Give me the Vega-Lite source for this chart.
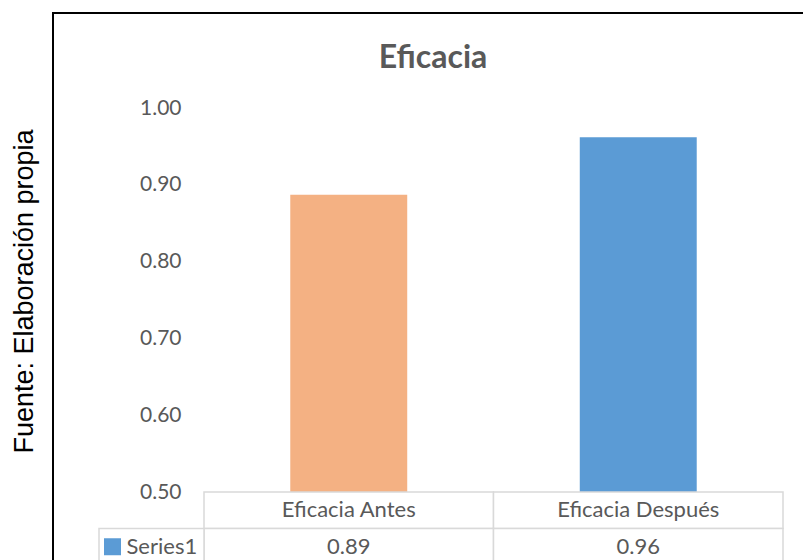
{
  "$schema": "https://vega.github.io/schema/vega-lite/v6.json",
  "width": 760,
  "height": 580,
  "autosize": {"type": "none"},
  "padding": {"left": 53, "top": 13, "right": -10, "bottom": -33},
  "background": "white",
  "config": {"view": {"stroke": "#000000", "strokeWidth": 2}},
  "title": {"text": "Eficacia", "anchor": "middle", "frame": "group", "font": "Lato", "fontSize": 32, "fontWeight": "bold", "color": "#595959", "baseline": "alphabetic", "offset": -87},
  "datasets": {
    "bars": [
      {"cat": "Eficacia Antes", "value": 0.887},
      {"cat": "Eficacia Después", "value": 0.962}
    ],
    "series": [{"series": "Series1"}]
  },
  "data": {"name": "bars"},
  "resolve": {"scale": {"x": "independent", "y": "independent", "color": "independent"}},
  "layer": [
    {
      "mark": {"type": "bar"},
      "encoding": {
        "x": {"field": "cat", "type": "nominal", "sort": null, "scale": {"domain": ["Eficacia Antes", "Eficacia Después"], "range": [151, 730], "paddingInner": 0.596, "paddingOuter": 0.298}, "axis": null},
        "y": {"field": "value", "type": "quantitative", "scale": {"domain": [0.5, 1.0], "range": [479, 95], "zero": false, "nice": false},
          "axis": {"values": [0.5, 0.6, 0.7, 0.8, 0.9, 1.0], "format": ".2f", "domain": false, "ticks": false, "grid": false,
            "labelFont": "Lato", "labelFontSize": 21, "labelColor": "#595959", "labelPadding": 0, "offset": -128,
            "title": "Fuente: Elaboración propia", "titleFont": "Liberation Sans", "titleFontSize": 27, "titleFontWeight": "normal", "titleColor": "#000000",
            "titleX": -157, "titleY": 278, "titleAngle": -90, "titleAlign": "center", "titleBaseline": "middle"}},
        "y2": {"datum": 0.5},
        "color": {"field": "cat", "type": "nominal", "scale": {"domain": ["Eficacia Antes", "Eficacia Después"], "range": ["#F4B183", "#5B9BD5"]}, "legend": null}
      }
    },
    {
      "mark": {"type": "rect", "fill": "white", "stroke": "#d9d9d9", "strokeWidth": 1.5},
      "encoding": {
        "x": {"field": "cat", "type": "nominal", "sort": null, "scale": {"domain": ["Eficacia Antes", "Eficacia Después"], "range": [151, 730], "paddingInner": 0, "paddingOuter": 0}, "axis": null},
        "y": {"datum": "header", "type": "ordinal", "scale": {"domain": ["header", "Series1"], "range": [479, 552], "paddingInner": 0, "paddingOuter": 0}, "axis": null}
      }
    },
    {
      "mark": {"type": "rect", "fill": "white", "stroke": "#d9d9d9", "strokeWidth": 1.5},
      "encoding": {
        "x": {"field": "cat", "type": "nominal", "sort": null, "scale": {"domain": ["Eficacia Antes", "Eficacia Después"], "range": [151, 730], "paddingInner": 0, "paddingOuter": 0}, "axis": null},
        "y": {"datum": "Series1", "type": "ordinal", "scale": {"domain": ["header", "Series1"], "range": [479, 552], "paddingInner": 0, "paddingOuter": 0}, "axis": null}
      }
    },
    {
      "data": {"name": "series"},
      "mark": {"type": "rect", "fill": "white", "stroke": "#d9d9d9", "strokeWidth": 1.5},
      "encoding": {
        "x": {"field": "series", "type": "nominal", "scale": {"domain": ["Series1"], "range": [46, 151], "paddingInner": 0, "paddingOuter": 0}, "axis": null},
        "y": {"field": "series", "type": "ordinal", "scale": {"domain": ["header", "Series1"], "range": [479, 552], "paddingInner": 0, "paddingOuter": 0}, "axis": null}
      }
    },
    {
      "mark": {"type": "text", "font": "Lato", "fontSize": 22, "color": "#595959", "baseline": "middle", "align": "center"},
      "encoding": {
        "x": {"field": "cat", "type": "nominal", "sort": null, "scale": {"domain": ["Eficacia Antes", "Eficacia Después"], "range": [151, 730], "paddingInner": 0, "paddingOuter": 0}, "axis": null},
        "y": {"datum": "header", "type": "ordinal", "scale": {"domain": ["header", "Series1"], "range": [479, 552], "paddingInner": 0, "paddingOuter": 0}, "axis": null},
        "text": {"field": "cat"}
      }
    },
    {
      "mark": {"type": "text", "font": "Lato", "fontSize": 22, "color": "#595959", "baseline": "middle", "align": "center"},
      "encoding": {
        "x": {"field": "cat", "type": "nominal", "sort": null, "scale": {"domain": ["Eficacia Antes", "Eficacia Después"], "range": [151, 730], "paddingInner": 0, "paddingOuter": 0}, "axis": null},
        "y": {"datum": "Series1", "type": "ordinal", "scale": {"domain": ["header", "Series1"], "range": [479, 552], "paddingInner": 0, "paddingOuter": 0}, "axis": null},
        "text": {"field": "value", "format": ".2f"}
      }
    },
    {
      "data": {"name": "series"},
      "mark": {"type": "point", "shape": "square", "filled": true, "size": 289, "color": "#5B9BD5", "opacity": 1, "xOffset": -39},
      "encoding": {
        "x": {"field": "series", "type": "nominal", "scale": {"domain": ["Series1"], "range": [46, 151], "paddingInner": 0, "paddingOuter": 0}, "axis": null},
        "y": {"field": "series", "type": "ordinal", "scale": {"domain": ["header", "Series1"], "range": [479, 552], "paddingInner": 0, "paddingOuter": 0}, "axis": null}
      }
    },
    {
      "data": {"name": "series"},
      "mark": {"type": "text", "font": "Lato", "fontSize": 22, "color": "#595959", "baseline": "middle", "align": "left", "dx": -25},
      "encoding": {
        "x": {"field": "series", "type": "nominal", "scale": {"domain": ["Series1"], "range": [46, 151], "paddingInner": 0, "paddingOuter": 0}, "axis": null},
        "y": {"field": "series", "type": "ordinal", "scale": {"domain": ["header", "Series1"], "range": [479, 552], "paddingInner": 0, "paddingOuter": 0}, "axis": null},
        "text": {"field": "series"}
      }
    }
  ]
}
